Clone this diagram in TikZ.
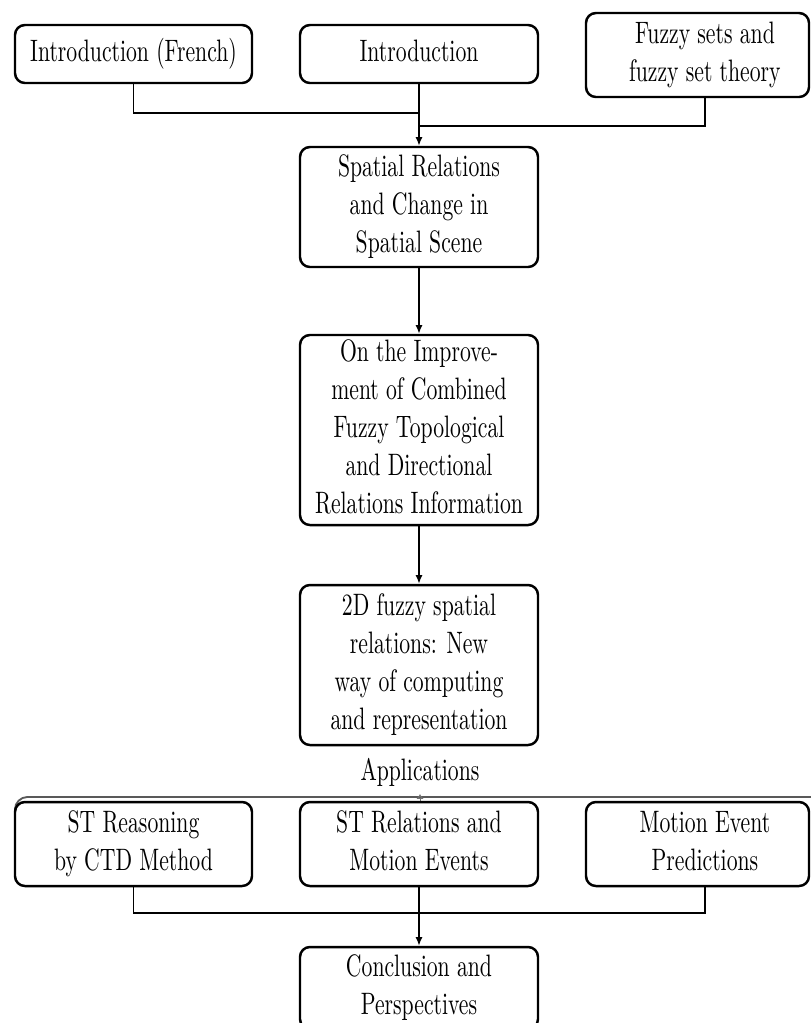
\documentclass[tikz,border=0pt]{standalone}
\usepackage{graphicx}
\usetikzlibrary{arrows.meta}
\newdimen\pxu \pxu=0.3226pt
\newcommand{\sqz}[1]{\scalebox{0.7}[1]{\begin{tabular}{@{}c@{}}#1\end{tabular}}}
\tikzset{
  box/.style={draw=black, line width=0.8pt, rounded corners=3.2pt, inner sep=0pt,
    font=\fontsize{10}{12.26}\selectfont, align=center},
  conn/.style={draw=black, line width=0.5pt},
  arr/.style={conn, -{Latex[length=2.8pt,width=2.3pt]}},
}
\begin{document}
\begin{tikzpicture}[x=0.3226pt, y=-0.3226pt]
\useasboundingbox (0,0) rectangle (811,1023);
\fill[white] (0,0) rectangle (811,1023);

% top row
\node[box, minimum width=237\pxu, minimum height=58\pxu] (french) at (133.5,54) {\sqz{Introduction (French)}};
\node[box, minimum width=238\pxu, minimum height=58\pxu] (intro) at (419,54) {\sqz{Introduction}};
\node[box, minimum width=223\pxu, minimum height=84\pxu] (fuzzy) at (697.5,55) {\hspace*{4.8pt}\sqz{Fuzzy sets and\\fuzzy set theory}};

% chain
\node[box, minimum width=238\pxu, minimum height=120\pxu] (spatial) at (419,207) {\sqz{Spatial Relations\\and Change in\\Spatial Scene}};
\node[box, minimum width=238\pxu, minimum height=186\pxu] (improve) at (419,430) {\sqz{On the Improve-\\ment of Combined\\Fuzzy Topological\\and Directional\\Relations Information}};
\node[box, minimum width=238\pxu, minimum height=160\pxu] (twod) at (419,665) {\sqz{2D fuzzy spatial\\relations: New\\way of computing\\and representation}};

% applications
\node[inner sep=0pt, font=\fontsize{10}{12.26}\selectfont] (apps) at (420,773) {\sqz{Applications}};
\coordinate (appR) at (811,797);
\coordinate (appL) at (15,835);
\draw[line width=0.6pt, draw=black!65, rounded corners=4pt] (appR) -| (appL);
\coordinate (tipA) at (420,802);
\coordinate (tipB) at (420,794);
\draw[draw=black!55, line width=0.3pt, -{Latex[length=1.6pt,width=2.4pt,open]}] (tipA) -- (tipB);

% bottom row
\node[box, minimum width=237\pxu, minimum height=84\pxu] (streason) at (133.5,844) {\sqz{ST Reasoning\\by CTD Method}};
\node[box, minimum width=238\pxu, minimum height=84\pxu] (strel) at (419,844) {\sqz{ST Relations and\\Motion Events}};
\node[box, minimum width=223\pxu, minimum height=84\pxu] (motion) at (697.5,844) {\hspace*{4.8pt}\sqz{Motion Event\\Predictions}};
\node[box, minimum width=238\pxu, minimum height=82\pxu] (concl) at (419,988) {\sqz{Conclusion and\\Perspectives}};

% top joins
\coordinate (j1) at (419,113);
\coordinate (j2) at (419,126);
\coordinate (fzdrop) at (705,97);
\draw[conn] (french.south) |- (j1);
\draw[conn] (fzdrop) |- (j2);
\draw[arr] (intro.south) -- (spatial.north);
\draw[arr] (spatial.south) -- (improve.north);
\draw[arr] (improve.south) -- (twod.north);

% bottom joins
\coordinate (j3) at (419,913);
\coordinate (mtdrop) at (705,886);
\draw[conn] (streason.south) |- (j3);
\draw[conn] (mtdrop) |- (j3);
\draw[arr] (strel.south) -- (concl.north);
\end{tikzpicture}
\end{document}
